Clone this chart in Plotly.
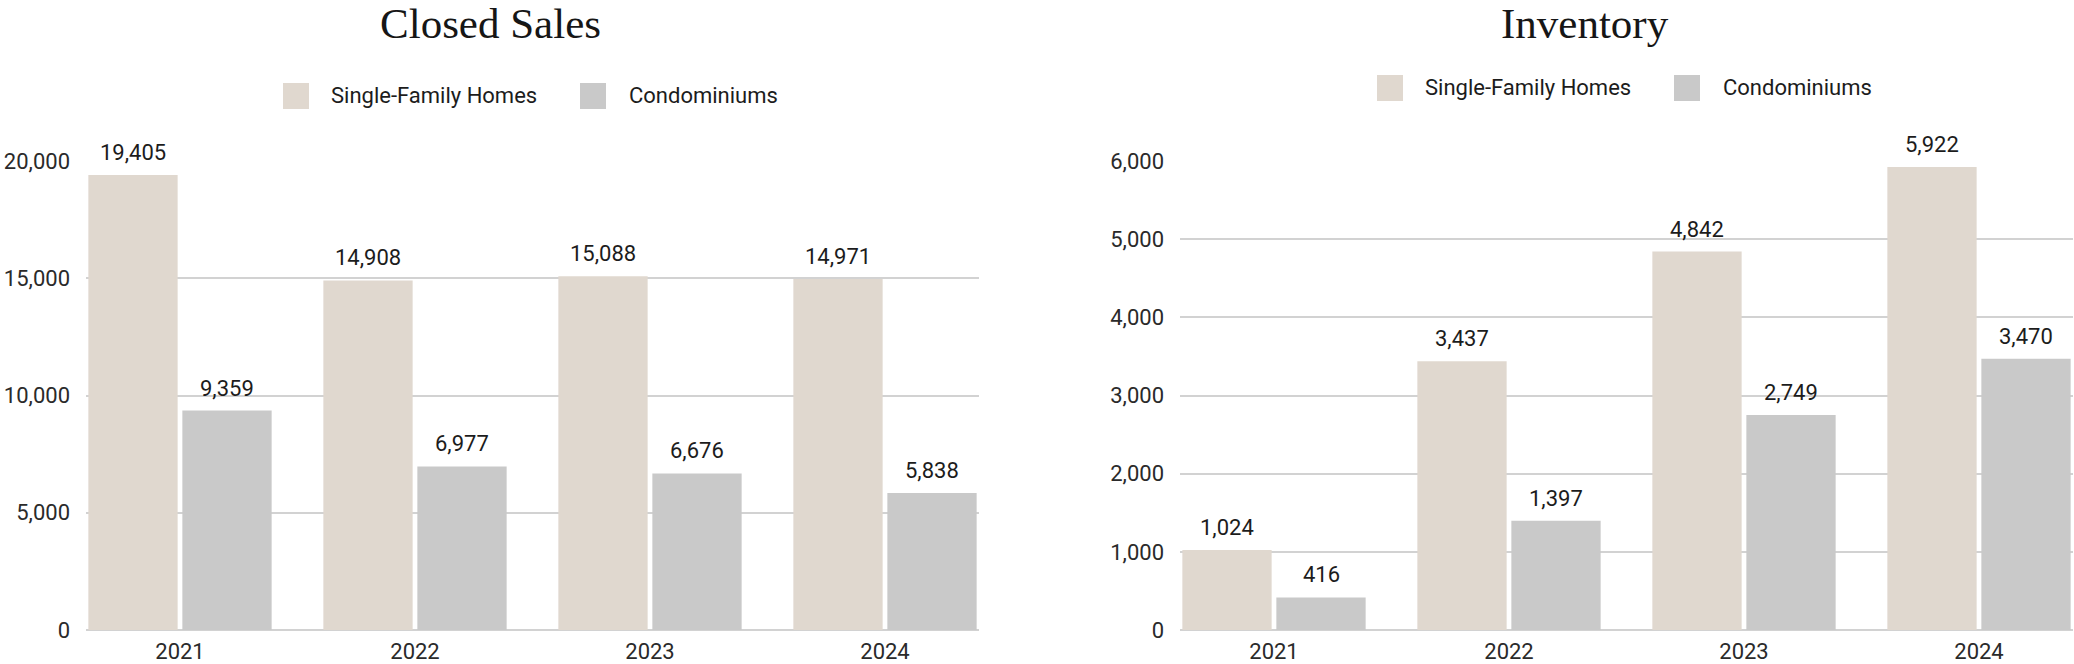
import plotly.graph_objects as go

years = ["2021", "2022", "2023", "2024"]
closed_sfh = [19405, 14908, 15088, 14971]
closed_condo = [9359, 6977, 6676, 5838]
inv_sfh = [1024, 3437, 4842, 5922]
inv_condo = [416, 1397, 2749, 3470]
series_names = ["Single-Family Homes", "Condominiums"]
closed_ticks = [0, 5000, 10000, 15000, 20000]
inv_ticks = [0, 1000, 2000, 3000, 4000, 5000, 6000]

W, H = 2074, 664
TOP, BOT = 161, 630
SFH_COLOR = "#e0d8cf"
CONDO_COLOR = "#c9c9c9"
SANS = "Roboto, 'Liberation Sans', sans-serif"
SERIF = "'Liberation Serif', 'DejaVu Serif', serif"
GRID = "#d2d2d2"
TXT = "#1c1c1c"
FS = 22


def px(x):
    return x / W


def py(y):
    return (BOT - y) / (BOT - TOP)


fig = go.Figure()
for xa, ya, sfh, condo in [("x", "y", closed_sfh, closed_condo), ("x2", "y2", inv_sfh, inv_condo)]:
    fig.add_trace(go.Bar(x=years, y=sfh, name=series_names[0], marker=dict(color=SFH_COLOR, line=dict(width=0)),
                         xaxis=xa, yaxis=ya, showlegend=False, hoverinfo="x+y"))
    fig.add_trace(go.Bar(x=years, y=condo, name=series_names[1], marker=dict(color=CONDO_COLOR, line=dict(width=0)),
                         xaxis=xa, yaxis=ya, showlegend=False, hoverinfo="x+y"))

annotations = []
for xa, ya, sfh, condo in [("x", "y", closed_sfh, closed_condo), ("x2", "y2", inv_sfh, inv_condo)]:
    for i in range(len(years)):
        for off, val in [(-0.2, sfh[i]), (0.2, condo[i])]:
            annotations.append(dict(x=i + off, y=val, xref=xa, yref=ya, text=f"{val:,}", showarrow=False,
                                    yanchor="bottom", xanchor="center", yshift=8,
                                    font=dict(family=SANS, size=FS, color=TXT)))

# titles
for text, xc in [("Closed Sales", 490), ("Inventory", 1585)]:
    annotations.append(dict(x=px(xc), y=py(23.5), xref="paper", yref="paper", text=text, showarrow=False,
                            xanchor="center", yanchor="middle",
                            font=dict(family=SERIF, size=43, color="#161616")))

# legends (swatch + label)
shapes = []
legend_items = [
    (283, 96, 329, SFH_COLOR, series_names[0]), (580, 96, 627, CONDO_COLOR, series_names[1]),
    (1377, 88, 1423, SFH_COLOR, series_names[0]), (1674, 88, 1721, CONDO_COLOR, series_names[1]),
]
for x0, yc, xt, col, name in legend_items:
    shapes.append(dict(type="rect", xref="paper", yref="paper", x0=px(x0), x1=px(x0 + 26),
                       y0=py(yc + 13), y1=py(yc - 13), fillcolor=col, line=dict(width=0), layer="above"))
    annotations.append(dict(x=px(xt), y=py(yc - 1), xref="paper", yref="paper", text=name, showarrow=False,
                            xanchor="left", yanchor="middle",
                            font=dict(family=SANS, size=FS, color=TXT)))

axis_common = dict(type="category", range=[-0.4, 3.4], showgrid=False, showline=False, ticks="",
                   tickfont=dict(family=SANS, size=FS, color="#2a2a2a"), ticklabelstandoff=6, fixedrange=True)
yaxis_common = dict(showgrid=True, gridcolor=GRID, gridwidth=1.6, zeroline=True, zerolinecolor=GRID,
                    zerolinewidth=1.6, showline=False, ticks="", tickformat=",",
                    tickfont=dict(family=SANS, size=FS, color="#2a2a2a"), ticklabelstandoff=15, fixedrange=True)

fig.update_layout(
    width=W, height=H,
    margin=dict(l=0, r=0, t=TOP, b=H - BOT, pad=0),
    paper_bgcolor="white", plot_bgcolor="white",
    barmode="group", bargap=0.2, bargroupgap=0.05,
    xaxis=dict(domain=[px(86), px(979)], anchor="y", **axis_common),
    xaxis2=dict(domain=[px(1180), px(2073)], anchor="y2", **axis_common),
    yaxis=dict(range=[0, 20000], tickvals=closed_ticks, anchor="x", **yaxis_common),
    yaxis2=dict(range=[0, 6000], tickvals=inv_ticks, anchor="x2", **yaxis_common),
    annotations=annotations,
    shapes=shapes,
    showlegend=False,
)

fig.write_html("out.html", config={"displayModeBar": False},
               post_script="document.body.style.margin='0';document.body.style.overflow='hidden';")
